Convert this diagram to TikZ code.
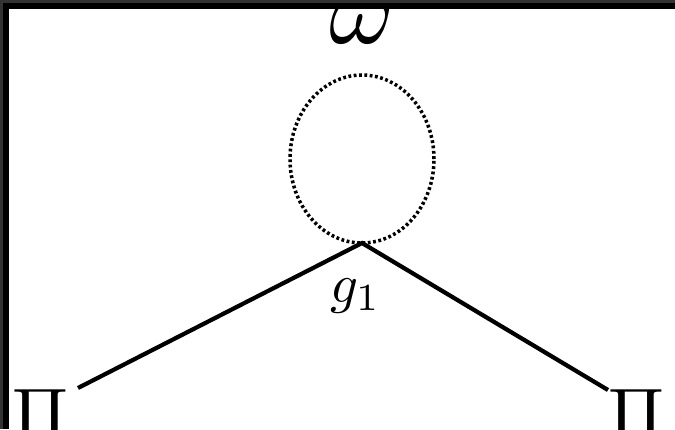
\documentclass[tikz,border=0pt]{standalone}
\usepackage{amsmath,amssymb}
\usepackage{tikz}
\usetikzlibrary{positioning, calc}
\definecolor{framegray}{RGB}{51, 51, 51}
\tikzset{
  meson line/.style={
    line width=3pt,
    draw=black
  },
  loop line/.style={
    line width=2.5pt,
    draw=black,
    dash pattern=on 2pt off 1.8pt
  },
  particle/.style={
    inner sep=0pt,
    outer sep=0pt
  }
}

\begin{document}
\begin{tikzpicture}
          \useasboundingbox (0, 0) rectangle (16.875, 10.725);
          \fill[white] (0, 0) rectangle (16.875, 10.725);

          \coordinate (v) at (9.05, 4.65);
          \coordinate (pl) at (1.95, 1.025);
          \coordinate (pr) at (15.2, 0.975);

          \draw[loop line] (9.05, 6.75) ellipse [x radius=1.8, y radius=2.1];
          \node[particle, anchor=base, scale=7.1] (om) at (9.05, 9.65) {$\omega$};
          \node[particle, anchor=base west, scale=3.9] (g1) at (8.25, 3.175) {$g_1$};
          \node[particle, anchor=north west, scale=5.3] (pil) at (0.3, 0.975) {$\Pi$};
          \node[particle, anchor=north west, scale=5.3] (pir) at (15.2, 0.975) {$\Pi$};

          \draw[meson line] (pl) -- (v) -- (pr);

          % frame
          \fill[framegray] (0, 0) rectangle (0.075, 10.725);
          \fill[framegray] (0, 10.65) rectangle (16.875, 10.725);
          \fill[black] (0.075, 0) rectangle (0.235, 10.65);
          \fill[black] (0.075, 10.49) rectangle (16.875, 10.65);
        \end{tikzpicture}
\end{document}
